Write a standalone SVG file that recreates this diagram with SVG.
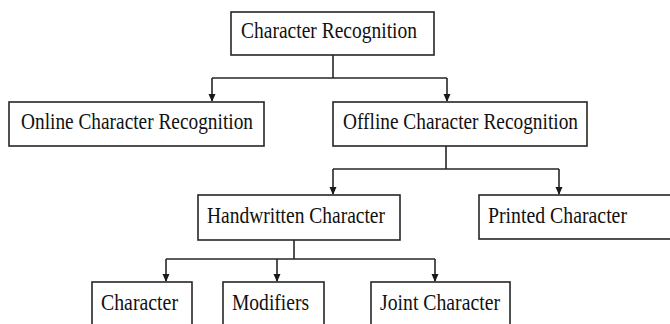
<svg xmlns="http://www.w3.org/2000/svg" width="670" height="324" viewBox="0 0 670 324">
<style>
.box{fill:#fff;stroke:#262626;stroke-width:1.6}
.t{font-family:"Liberation Serif","Times New Roman",serif;font-size:23px;fill:#111}
.c{fill:none;stroke:#262626;stroke-width:1.6}
</style>
<defs>
<marker id="ah" markerWidth="8" markerHeight="8" refX="7" refY="4" orient="auto" markerUnits="userSpaceOnUse">
<path d="M0,0.5 L8,4 L0,7.5 Z" fill="#1a1a1a"/>
</marker>
</defs>
<rect width="670" height="324" fill="#fff"/>
<g id="connectors">
<path class="c" d="M333,55 V78"/>
<path class="c" d="M212,78 H447"/>
<path class="c" d="M212,78 V101" marker-end="url(#ah)"/>
<path class="c" d="M447,78 V101" marker-end="url(#ah)"/>
<path class="c" d="M446,146 V169"/>
<path class="c" d="M333,169 H559"/>
<path class="c" d="M333,169 V194" marker-end="url(#ah)"/>
<path class="c" d="M559,169 V194" marker-end="url(#ah)"/>
<path class="c" d="M294,240 V259"/>
<path class="c" d="M166,259 H435"/>
<path class="c" d="M166,259 V281" marker-end="url(#ah)"/>
<path class="c" d="M277,259 V281" marker-end="url(#ah)"/>
<path class="c" d="M435,259 V281" marker-end="url(#ah)"/>
</g>
<g id="n-character-recognition">
<rect class="box" x="231" y="12" width="203" height="43"/>
<text class="t" x="241" y="38" textLength="176" lengthAdjust="spacingAndGlyphs">Character Recognition</text>
</g>
<g id="n-online">
<rect class="box" x="9" y="102" width="255" height="44"/>
<text class="t" x="21" y="129" textLength="232" lengthAdjust="spacingAndGlyphs">Online Character Recognition</text>
</g>
<g id="n-offline">
<rect class="box" x="333" y="102" width="254" height="44"/>
<text class="t" x="343" y="129" textLength="235" lengthAdjust="spacingAndGlyphs">Offline Character Recognition</text>
</g>
<g id="n-handwritten">
<rect class="box" x="198" y="195" width="202" height="45"/>
<text class="t" x="207" y="223" textLength="178" lengthAdjust="spacingAndGlyphs">Handwritten Character</text>
</g>
<g id="n-printed">
<rect class="box" x="479" y="195" width="195" height="44"/>
<text class="t" x="488" y="223" textLength="139" lengthAdjust="spacingAndGlyphs">Printed Character</text>
</g>
<g id="n-character">
<rect class="box" x="92" y="282" width="100" height="60"/>
<text class="t" x="101" y="310" textLength="77" lengthAdjust="spacingAndGlyphs">Character</text>
</g>
<g id="n-modifiers">
<rect class="box" x="223" y="282" width="101" height="60"/>
<text class="t" x="232" y="310" textLength="77" lengthAdjust="spacingAndGlyphs">Modifiers</text>
</g>
<g id="n-joint">
<rect class="box" x="371" y="282" width="139" height="60"/>
<text class="t" x="380" y="310" textLength="120" lengthAdjust="spacingAndGlyphs">Joint Character</text>
</g>
</svg>
